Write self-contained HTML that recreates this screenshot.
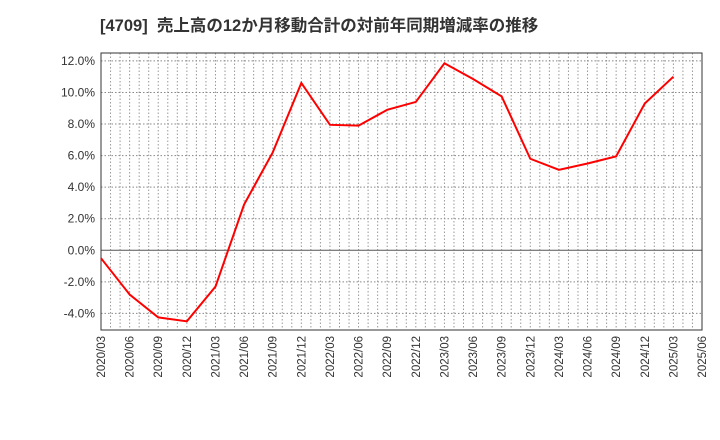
<!DOCTYPE html><html><head><meta charset="utf-8"><style>body{margin:0;background:#fff}svg{display:block;font-family:"Liberation Sans","Noto Sans CJK JP",sans-serif}</style></head><body>
<svg id="c" width="720" height="440"></svg>
<script>
const categories=["2020/03","2020/06","2020/09","2020/12","2021/03","2021/06","2021/09","2021/12","2022/03","2022/06","2022/09","2022/12","2023/03","2023/06","2023/09","2023/12","2024/03","2024/06","2024/09","2024/12","2025/03","2025/06"];
const values=[-0.5,-2.8,-4.25,-4.5,-2.3,2.9,6.2,10.6,7.95,7.9,8.9,9.4,11.85,10.85,9.75,5.8,5.1,5.5,5.95,9.3,11.0];
const yTicks=[-4,-2,0,2,4,6,8,10,12];
const title="[4709]\u00a0\u00a0売上高の12か月移動合計の対前年同期増減率の推移";
const NS="http://www.w3.org/2000/svg",s=document.getElementById('c');
const L=101,R=702,T=53,B=330,yMin=-5.05,yMax=12.5;
const x=i=>L+(R-L)*i/(categories.length-1);
const y=v=>B-(v-yMin)/(yMax-yMin)*(B-T);
function mk(t,a,p){const e=document.createElementNS(NS,t);for(const k in a)e.setAttribute(k,a[k]);(p||s).appendChild(e);return e;}
let e=mk('text',{x:100,y:31,'font-size':16.5,'font-weight':'bold',fill:'#333'});e.textContent=title;


for(let m=1;m<(categories.length-1)*3;m++){const xx=L+(R-L)*m/((categories.length-1)*3);
e=mk('line',{x1:xx,x2:xx,y1:T,y2:B,stroke:'#999','stroke-dasharray':'1.5,2'});

}
yTicks.forEach(v=>{const yy=y(v);
e=mk('line',{x1:L,x2:R,y1:yy,y2:yy,stroke:v===0?'#555':'#888','stroke-dasharray':v===0?'':'1.5,2'});


e=mk('text',{x:L-6,y:yy+4,'font-size':12,fill:'#333','text-anchor':'end'});e.textContent=v.toFixed(1)+'%';

});
categories.forEach((c,i)=>{e=mk('text',{transform:`translate(${x(i)+4},${B+6}) rotate(-90)`,'font-size':11.5,fill:'#333','text-anchor':'end'});e.textContent=c;

});
e=mk('rect',{x:L,y:T,width:R-L,height:B-T,fill:'none',stroke:'#333'});


e=mk('polyline',{points:values.map((v,i)=>x(i)+','+y(v)).join(' '),fill:'none',stroke:'#f00','stroke-width':2});


</script></body></html>
